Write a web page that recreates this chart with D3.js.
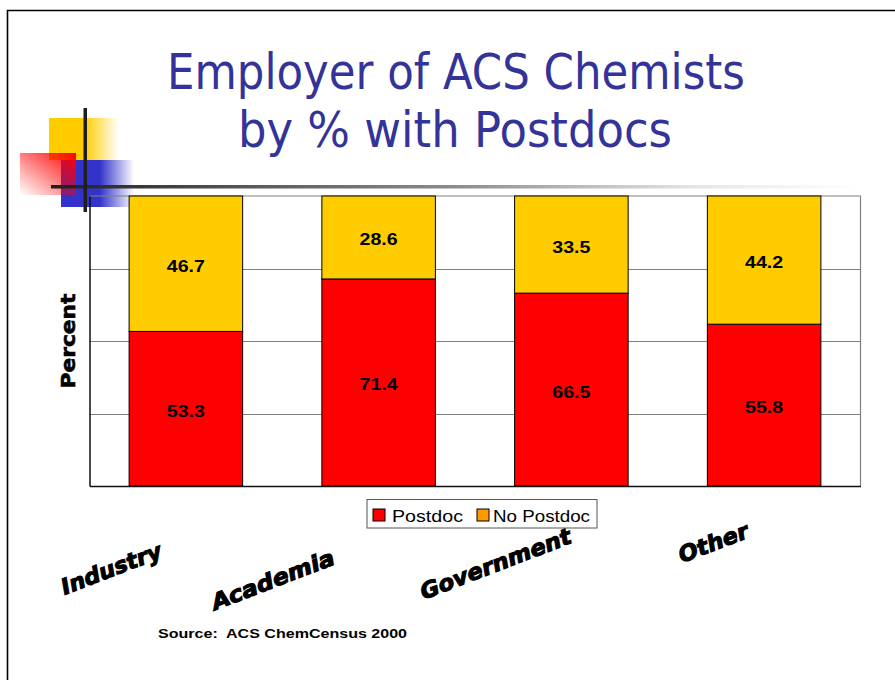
<!DOCTYPE html>
<html>
<head>
<meta charset="utf-8">
<script src="https://cdn.jsdelivr.net/npm/d3@7"></script>
<style>
  html, body { margin: 0; padding: 0; background: #fff; }
  svg { display: block; }
</style>
</head>
<body>
<div id="chart"></div>
<script>
// data
var categories = ["Industry", "Academia", "Government", "Other"];
var postdoc    = [53.3, 71.4, 66.5, 55.8];
var noPostdoc  = [46.7, 28.6, 33.5, 44.2];
var seriesNames = ["Postdoc", "No Postdoc"];
var yTicks = [0, 25, 50, 75, 100];

// layout for the hand placed category captions (dx, dy from band centre / plot bottom)
var captionNudge = [[-72, 90], [-103, 101], [-73, 85], [-48, 64]];
var captionLength = [106, 130, 160, 73];

var w = 895, h = 680;
var plot = { left: 89.5, right: 860.5, top: 196, bottom: 486 };
var colors = ["#ff0000", "#ffcc00"];
var legendColors = ["#ff0000", "#ff9900"];
var stretch = 1.15; // slide text is drawn a bit wide

var svg = d3.select("#chart").append("svg")
    .attr("width", w).attr("height", h);

var defs = svg.append("defs");
function grad(id, x1, y1, x2, y2, stops) {
  var g = defs.append("linearGradient").attr("id", id)
      .attr("x1", x1).attr("y1", y1).attr("x2", x2).attr("y2", y2);
  stops.forEach(function(s) {
    g.append("stop").attr("offset", s[0]).attr("stop-color", s[1]).attr("stop-opacity", s[2]);
  });
}
grad("gYellow", 0, 0, 1, 0, [[0, "#ffcc00", 1], [0.5, "#ffcc00", 1], [1, "#ffcc00", 0]]);
grad("gBlue", 0, 0, 1, 0, [[0, "#3333cc", 1], [0.53, "#3333cc", 1], [1, "#3333cc", 0]]);
grad("gRed", 1, 0, 0, 1, [[0, "#ff0000", 1], [1, "#ff0000", 0]]);
var lineGrad = defs.append("linearGradient").attr("id", "gLine")
    .attr("gradientUnits", "userSpaceOnUse")
    .attr("x1", 51).attr("y1", 0).attr("x2", 860).attr("y2", 0);
[[0, "#1e1e1e"], [0.25, "#5a5a5a"], [0.5, "#8c8c8c"], [0.8, "#e6e6e6"], [1, "#ffffff"]].forEach(function(s) {
  lineGrad.append("stop").attr("offset", s[0]).attr("stop-color", s[1]);
});

// page frame
svg.append("path")
    .attr("d", "M7.5," + h + "V10.5H" + w)
    .attr("fill", "none").attr("stroke", "#000").attr("stroke-width", 1.6);

// title
var title = svg.append("g")
    .attr("font-family", "'DejaVu Sans', Tahoma, sans-serif")
    .attr("font-size", 50).attr("fill", "#333399").attr("text-anchor", "middle");
title.append("text").attr("x", 456).attr("y", 89)
    .attr("textLength", 578).attr("lengthAdjust", "spacingAndGlyphs")
    .text("Employer of ACS Chemists");
title.append("text").attr("x", 455).attr("y", 147)
    .attr("textLength", 434).attr("lengthAdjust", "spacingAndGlyphs")
    .text("by % with Postdocs");

// decoration squares and rules
var deco = svg.append("g");
deco.append("rect").attr("x", 49).attr("y", 118).attr("width", 70).attr("height", 42).attr("fill", "url(#gYellow)");
deco.append("rect").attr("x", 61).attr("y", 160).attr("width", 73).attr("height", 47).attr("fill", "url(#gBlue)");
deco.append("rect").attr("x", 20).attr("y", 153).attr("width", 56).attr("height", 42).attr("fill", "url(#gRed)");
deco.append("rect").attr("x", 51).attr("y", 185).attr("width", 809).attr("height", 3.5).attr("fill", "url(#gLine)");
deco.append("rect").attr("x", 83.5).attr("y", 108).attr("width", 3.5).attr("height", 104).attr("fill", "#1e1e1e");

// scales
var x = d3.scaleBand()
    .domain(categories)
    .range([plot.left, plot.right])
    .paddingInner(0.411)
    .paddingOuter(0.2055);
var y = d3.scaleLinear().domain([0, 100]).range([plot.bottom, plot.top]);

// grid
var grid = svg.append("g");
grid.selectAll("line").data(yTicks.slice(1, -1)).enter().append("line")
    .attr("x1", plot.left).attr("x2", plot.right)
    .attr("y1", function(d) { return Math.round(y(d)) + 0.5; })
    .attr("y2", function(d) { return Math.round(y(d)) + 0.5; })
    .attr("stroke", "#808080").attr("stroke-width", 1.2);
grid.append("path")
    .attr("d", "M" + plot.left + "," + plot.top + "H" + plot.right + "V" + plot.bottom)
    .attr("fill", "none").attr("stroke", "#808080").attr("stroke-width", 1.2);

// stacked bars
var rows = categories.map(function(c, i) {
  return { cat: c, "Postdoc": postdoc[i], "No Postdoc": noPostdoc[i] };
});
var series = d3.stack().keys(seriesNames)(rows);

var groups = svg.selectAll("g.layer").data(series).enter().append("g")
    .attr("class", "layer")
    .attr("fill", function(d, i) { return colors[i]; });

groups.selectAll("rect").data(function(d) { return d; }).enter().append("rect")
    .attr("x", function(d) { return x(d.data.cat); })
    .attr("y", function(d) { return y(d[1]); })
    .attr("width", x.bandwidth())
    .attr("height", function(d) { return y(d[0]) - y(d[1]); })
    .attr("stroke", "#000").attr("stroke-width", 1);

groups.selectAll("text").data(function(d) { return d; }).enter().append("text")
    .attr("x", function(d) { return x(d.data.cat) + x.bandwidth() / 2; })
    .attr("y", function(d) { return (y(d[0]) + y(d[1])) / 2 + 8; })
    .attr("text-anchor", "middle")
    .attr("font-family", "'Liberation Sans', Arial, sans-serif")
    .attr("font-weight", "bold").attr("font-size", 17)
    .attr("fill", "#000")
    .text(function(d) { return (d[1] - d[0]).toFixed(1); });

// axes (left and bottom in black)
svg.append("g")
    .attr("transform", "translate(" + plot.left + ",0)")
    .call(d3.axisLeft(y).tickValues([]).tickSizeOuter(0))
    .call(function(g) { g.select(".domain").attr("stroke", "#111").attr("stroke-width", 1.5); });
svg.append("g")
    .attr("transform", "translate(0," + plot.bottom + ")")
    .call(d3.axisBottom(x).tickValues([]).tickSizeOuter(0))
    .call(function(g) { g.select(".domain").attr("stroke", "#111").attr("stroke-width", 1.5); });

// y title
svg.append("text")
    .attr("transform", "translate(75," + ((plot.top + plot.bottom) / 2) + ") rotate(-90)")
    .attr("text-anchor", "middle")
    .attr("font-family", "'DejaVu Sans', sans-serif")
    .attr("font-weight", "bold").attr("font-size", 20)
    .attr("stroke", "#000").attr("stroke-width", 0.6)
    .attr("textLength", 95).attr("lengthAdjust", "spacingAndGlyphs")
    .text("Percent");

// legend
var legend = svg.append("g").attr("font-family", "'Liberation Sans', Arial, sans-serif").attr("font-size", 17);
legend.append("rect").attr("x", 367).attr("y", 499.5).attr("width", 230).attr("height", 28.5)
    .attr("fill", "#fff").attr("stroke", "#555").attr("stroke-width", 1);
var legendX = [[373, 392, 71], [477, 493, 97]];
seriesNames.forEach(function(name, i) {
  legend.append("rect").attr("x", legendX[i][0]).attr("y", 509).attr("width", 12).attr("height", 12)
      .attr("fill", legendColors[i]).attr("stroke", "#000").attr("stroke-width", 1);
  legend.append("text").attr("x", legendX[i][1]).attr("y", 521.5)
      .attr("textLength", legendX[i][2]).attr("lengthAdjust", "spacingAndGlyphs")
      .text(name);
});

// category captions
svg.append("g").selectAll("text").data(categories).enter().append("text")
    .attr("transform", function(d, i) {
      var cx = x(d) + x.bandwidth() / 2 + captionNudge[i][0];
      var cy = plot.bottom + captionNudge[i][1];
      return "translate(" + cx + "," + cy + ") rotate(-21)";
    })
    .attr("text-anchor", "middle")
    .attr("font-family", "'DejaVu Sans', sans-serif")
    .attr("font-weight", "bold").attr("font-style", "italic").attr("font-size", 22)
    .attr("stroke", "#000").attr("stroke-width", 1.1)
    .attr("textLength", function(d, i) { return captionLength[i]; })
    .attr("lengthAdjust", "spacingAndGlyphs")
    .text(function(d) { return d; });

// source
svg.append("text").attr("x", 158).attr("y", 638)
    .attr("font-family", "'Liberation Sans', Arial, sans-serif")
    .attr("font-weight", "bold").attr("font-size", 13)
    .attr("textLength", 249).attr("lengthAdjust", "spacingAndGlyphs")
    .attr("xml:space", "preserve")
    .text("Source:  ACS ChemCensus 2000");

// value labels drawn a touch wider, like the slide
groups.selectAll("text").each(function() {
  var len = this.getComputedTextLength();
  d3.select(this).attr("textLength", len * stretch).attr("lengthAdjust", "spacingAndGlyphs");
});
</script>
</body>
</html>
